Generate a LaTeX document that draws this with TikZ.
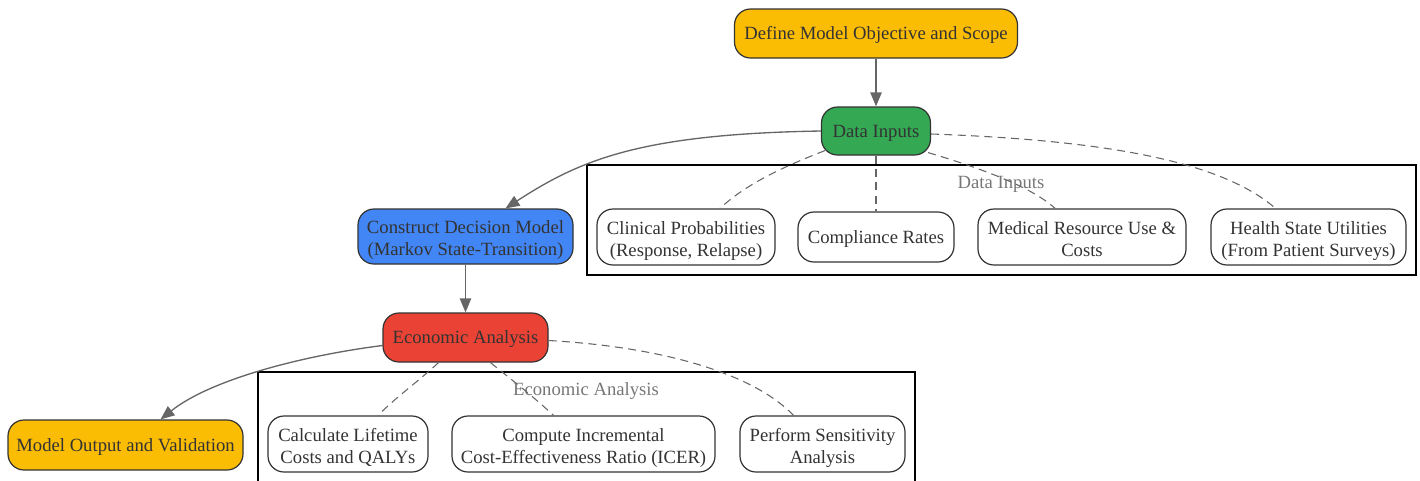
\documentclass[tikz,border=0pt]{standalone}
\usepackage{fontspec}
\setmainfont{Liberation Serif}
\usetikzlibrary{arrows.meta,calc}
\definecolor{cyel}{HTML}{FBBC04}
\definecolor{cgrn}{HTML}{34A853}
\definecolor{cblu}{HTML}{4285F4}
\definecolor{cred}{HTML}{EA4335}
\definecolor{ctxt}{HTML}{333333}
\definecolor{cline}{HTML}{666666}
\definecolor{clab}{HTML}{777777}
\newcommand{\twolines}[2]{\raisebox{-3pt}[\height][\depth]{\begin{tabular}{@{}c@{}}#1\\#2\end{tabular}}}
\begin{document}
\begin{tikzpicture}[x=0.75pt,y=-0.75pt,
  box/.style={draw=ctxt, line width=0.9pt, rounded corners=12pt, align=center, text=ctxt,
    inner sep=0pt, font=\fontsize{14pt}{16.5pt}\selectfont,
    execute at begin node={\rule{0pt}{12.6pt}}},
  two/.style={execute at begin node={}},
  sub/.style={box, fill=white},
  cluster/.style={draw=black, line width=0.9pt},
  clabel/.style={text=clab, font=\fontsize{14pt}{16.5pt}\selectfont},
  flow/.style={draw=cline, line width=1pt, -{Triangle[length=10.5pt,width=8.5pt]}},
  link/.style={draw=cline, line width=0.8pt, dash pattern=on 6pt off 4pt}]
\useasboundingbox (0,0) rectangle (1420,480);
% clusters
\draw[cluster] (587,165) rectangle (1416,275);
\node[clabel] (lab1) at (1001,184.5) {Data Inputs};
\draw[cluster] (258,482) -- (258,372) -- (915,372) -- (915,482);
\node[clabel] (lab2) at (586,391.5) {Economic Analysis};
% main nodes
\node[box, fill=cyel, minimum width=212.25pt, minimum height=36.75pt] (def) at (876,33.5) {Define Model Objective and Scope};
\node[box, fill=cgrn, minimum width=81.75pt, minimum height=36pt] (dat) at (876,131) {Data Inputs};
\node[box, two, fill=cblu, minimum width=161.25pt, minimum height=41.25pt] (con) at (465.5,236.5) {\twolines{Construct Decision Model}{(Markov State-Transition)}};
\node[box, fill=cred, minimum width=123.75pt, minimum height=36.75pt] (eco) at (465.5,337.5) {Economic Analysis};
\node[box, fill=cyel, minimum width=176.25pt, minimum height=37.5pt] (out) at (125.5,445) {Model Output and Validation};
% sub nodes
\node[sub, two, minimum width=133.5pt, minimum height=42pt] (cli) at (686,237) {\twolines{Clinical Probabilities}{(Response, Relapse)}};
\node[sub, minimum width=117pt, minimum height=37.5pt] (cmp) at (876,237) {Compliance Rates};
\node[sub, two, minimum width=156pt, minimum height=42pt] (med) at (1082,237) {\twolines{Medical Resource Use \&}{Costs}};
\node[sub, two, minimum width=146.25pt, minimum height=42pt] (hea) at (1308.5,237) {\twolines{Health State Utilities}{(From Patient Surveys)}};
\node[sub, two, minimum width=120pt, minimum height=42pt] (cal) at (348,444) {\twolines{Calculate Lifetime}{Costs and QALYs}};
\node[sub, two, minimum width=197.25pt, minimum height=42pt] (icr) at (583.5,444) {\twolines{Compute Incremental}{Cost-Effectiveness Ratio (ICER)}};
\node[sub, two, minimum width=123.75pt, minimum height=42pt] (sen) at (822.5,444) {\twolines{Perform Sensitivity}{Analysis}};
% flow edges
\draw[flow] (def.south) -- (dat.north);
\draw[flow] (dat.west) .. controls (640,134) and (580,160) .. ($(con.north)+(40,0)$);
\draw[flow] (con.south) -- (eco.north);
\draw[flow] ($(eco.west)+(0,8)$) .. controls (300,356) and (210,380) .. ($(out.north)+(35,0)$);
% dashed links
\draw[link] ($(dat.south west)+(4,-5)$) .. controls (780,168) and (745,185) .. ($(cli.north)+(34,0)$);
\draw[link] (dat.south) -- (cmp.north);
\draw[link] ($(dat.south east)+(-3,-3)$) .. controls (970,165) and (1030,185) .. ($(med.north)+(-27,0)$);
\draw[link] ($(dat.east)+(0,3)$) .. controls (1100,140) and (1220,160) .. ($(hea.north)+(-33,0)$);
\draw[link] ($(eco.south)+(-27,0)$) .. controls (420,380) and (395,398) .. ($(cal.north)+(30,0)$);
\draw[link] ($(eco.south)+(25,0)$) .. controls (512,380) and (535,398) .. ($(icr.north)+(-30,0)$);
\draw[link] ($(eco.east)+(0,3)$) .. controls (680,348) and (760,380) .. ($(sen.north)+(-29,0)$);
\end{tikzpicture}
\end{document}
